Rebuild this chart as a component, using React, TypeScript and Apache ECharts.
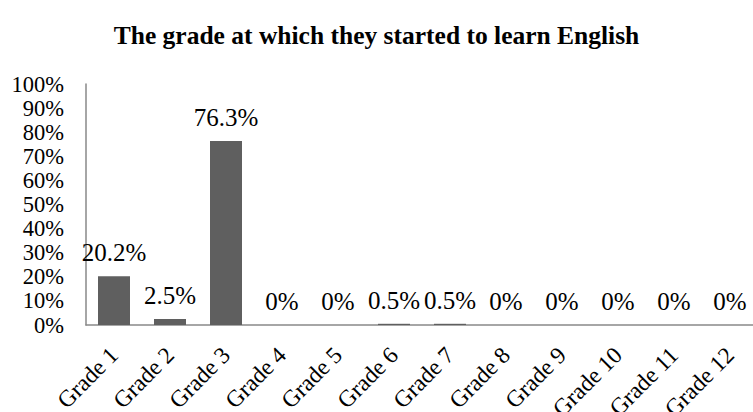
import React, { useEffect, useRef } from "react";
import * as echarts from "echarts";

const titleText = "The grade at which they started to learn English";
const categories = ["Grade 1", "Grade 2", "Grade 3", "Grade 4", "Grade 5", "Grade 6", "Grade 7", "Grade 8", "Grade 9", "Grade 10", "Grade 11", "Grade 12"];
const values = [20.2, 2.5, 76.3, 0, 0, 0.5, 0.5, 0, 0, 0, 0, 0];
const yMin = 0;
const yMax = 100;
const yInterval = 10;

const FONT = "Liberation Serif";

export default function App() {
  const ref = useRef<HTMLDivElement>(null);
  useEffect(() => {
    if (!ref.current) return;
    const chart = echarts.init(ref.current, undefined, { renderer: "svg" });
    chart.setOption({
      animation: false,
      backgroundColor: "#ffffff",
      textStyle: { fontFamily: FONT },
      title: {
        text: titleText,
        left: "center",
        top: 17,
        textStyle: { fontFamily: FONT, fontSize: 25.5, fontWeight: "bold", color: "#000" },
      },
      grid: {
        left: 86,
        top: 84,
        width: 672,
        height: 241,
        containLabel: false,
        outerBoundsMode: "none",
      },
      xAxis: {
        type: "category",
        data: categories,
        axisLine: { show: true, lineStyle: { color: "#898989", width: 1.5 } },
        axisTick: { show: false },
        axisLabel: {
          rotate: 45,
          interval: 0,
          margin: 26,
          fontFamily: FONT,
          fontSize: 23.5,
          color: "#000",
        },
      },
      yAxis: {
        type: "value",
        min: yMin,
        max: yMax,
        interval: yInterval,
        axisLine: { show: true, lineStyle: { color: "#898989", width: 1.5 } },
        axisTick: { show: false },
        splitLine: { show: false },
        axisLabel: {
          formatter: "{value}%",
          margin: 22,
          showMinLabel: true,
          showMaxLabel: true,
          hideOverlap: false,
          fontFamily: FONT,
          fontSize: 22.5,
          lineHeight: 22,
          color: "#000",
        },
      },
      series: [
        {
          type: "bar",
          data: values,
          barWidth: 32,
          itemStyle: { color: "#5f5f5f" },
          label: {
            show: true,
            position: "top",
            distance: 11,
            formatter: (p: any) => `${p.value}%`,
            fontFamily: FONT,
            fontSize: 25,
            color: "#000",
          },
        },
      ],
    });
    return () => chart.dispose();
  }, []);
  return (
    <div
      ref={ref}
      style={{ position: "fixed", left: 0, top: 0, width: 753, height: 412 }}
    />
  );
}
